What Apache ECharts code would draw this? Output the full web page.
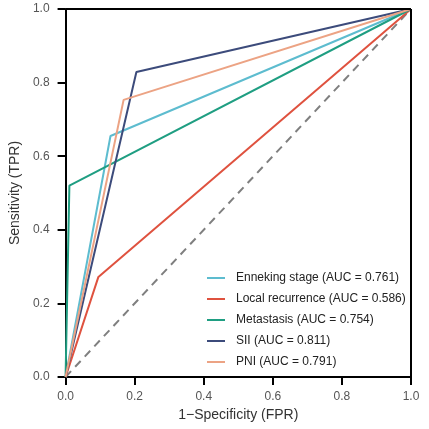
<!DOCTYPE html>
<html>
<head>
<meta charset="utf-8">
<script src="https://cdn.jsdelivr.net/npm/echarts@6/dist/echarts.min.js"></script>
<style>
  html, body { margin: 0; padding: 0; background: #fff; }
  #main { width: 429px; height: 429px; }
</style>
</head>
<body>
<div id="main"></div>
<script>
// ROC curves, one [FPR, TPR] list per model
var seriesNames = [
  'Enneking stage (AUC = 0.761)',
  'Local recurrence (AUC = 0.586)',
  'Metastasis (AUC = 0.754)',
  'SII (AUC = 0.811)',
  'PNI (AUC = 0.791)'
];
var enneking = [[0, 0], [0.13, 0.655], [1, 1]];
var localRecurrence = [[0, 0], [0.095, 0.272], [1, 1]];
var metastasis = [[0, 0], [0.011, 0.52], [1, 1]];
var sii = [[0, 0], [0.205, 0.829], [1, 1]];
var pni = [[0, 0], [0.168, 0.753], [1, 1]];
var diagonal = [[0, 0], [1, 1]];

var colors = ['#5dbccf', '#df523f', '#1f9e82', '#3c4b7b', '#eca384'];
var curves = [enneking, localRecurrence, metastasis, sii, pni];

var myChart = echarts.init(document.getElementById('main'));

var series = [{
  name: 'chance',
  type: 'line',
  data: diagonal,
  showSymbol: false,
  silent: true,
  lineStyle: { color: '#7f7f7f', width: 2, type: [8, 6] },
  z: 1,
  // top and right sides of the box
  markLine: {
    silent: true,
    symbol: ['none', 'none'],
    label: { show: false },
    lineStyle: { color: '#000', width: 2, type: 'solid' },
    data: [
      [{ coord: [0, 1] }, { coord: [1, 1] }],
      [{ coord: [1, 0] }, { coord: [1, 1] }]
    ]
  }
}];
for (var i = 0; i < curves.length; i++) {
  series.push({
    name: seriesNames[i],
    type: 'line',
    data: curves[i],
    showSymbol: false,
    color: colors[i],
    lineStyle: { width: 2 },
    z: 2
  });
}

var axisCommon = {
  type: 'value',
  min: 0, max: 1, interval: 0.2,
  nameLocation: 'middle',
  nameTextStyle: { fontFamily: 'Liberation Sans', fontSize: 14, color: '#333' },
  axisLine: { show: true, onZero: false, lineStyle: { color: '#000', width: 2 } },
  axisTick: { show: true, length: 8, lineStyle: { color: '#000', width: 2 } },
  axisLabel: {
    margin: 14,
    fontFamily: 'Liberation Sans',
    fontSize: 12,
    color: '#555',
    formatter: function (v) { return v.toFixed(1); }
  },
  // kept on but invisible: turning split lines off also dropped the ticks
  splitLine: { show: true, lineStyle: { color: 'rgba(0,0,0,0)' } }
};

var option = {
  animation: false,
  backgroundColor: '#fff',
  grid: { left: 65, right: 18, top: 9, bottom: 52 },
  xAxis: Object.assign({}, axisCommon, {
    name: '1\u2212Specificity (FPR)',
    nameGap: 27
  }),
  yAxis: Object.assign({}, axisCommon, {
    name: 'Sensitivity (TPR)',
    nameGap: 40,
    axisLabel: Object.assign({}, axisCommon.axisLabel, { margin: 16 })
  }),
  legend: {
    data: seriesNames,
    orient: 'vertical',
    left: 207,
    top: 272,
    padding: 0,
    itemWidth: 18,
    itemHeight: 2,
    itemGap: 9,
    icon: 'rect',
    textStyle: { fontFamily: 'Liberation Sans', fontSize: 12, color: '#222', padding: [0, 0, 0, 6] }
  },
  series: series
};

myChart.setOption(option);
</script>
</body>
</html>
